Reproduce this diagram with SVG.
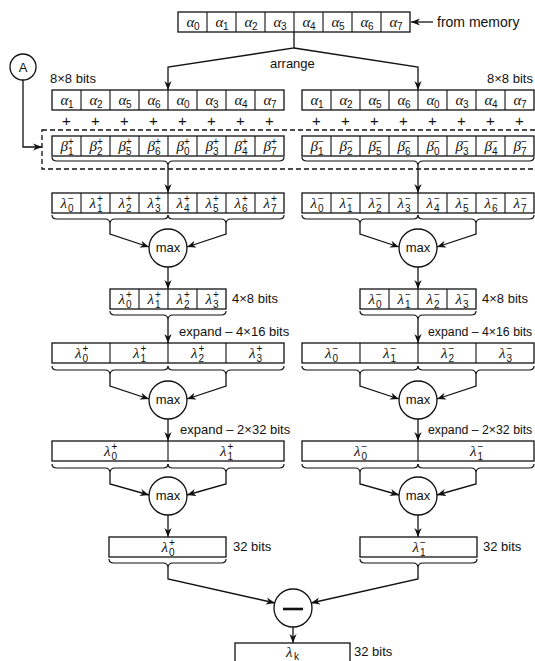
<svg xmlns="http://www.w3.org/2000/svg" width="535" height="661" viewBox="0 0 535 661">
<style>
.bx{fill:#fff;stroke:#111;stroke-width:1.3}
.dv{stroke:#111;stroke-width:1.1}
.cn{fill:none;stroke:#111;stroke-width:1.3}
.br{fill:none;stroke:#111;stroke-width:1.2}
.dash{fill:none;stroke:#111;stroke-width:1.3;stroke-dasharray:5,3}
.lb{font-family:"Liberation Sans",Arial,sans-serif;font-size:13px;fill:#111}
.lbs{font-family:"Liberation Sans",Arial,sans-serif;font-size:12.3px;fill:#111}
.pl{font-family:"Liberation Sans",Arial,sans-serif;font-size:15px;fill:#111;text-anchor:middle}
.gk{font-family:"Liberation Serif","Times New Roman",serif;font-style:italic;font-size:15px;fill:#111}
.s{font-family:"Liberation Sans",Arial,sans-serif;font-style:normal;font-size:10px}
.ci{fill:#fff;stroke:#111;stroke-width:1.3}
.mx{font-family:"Liberation Sans",Arial,sans-serif;font-size:13px;fill:#111;text-anchor:middle}
</style>
<defs>
<marker id="ah" viewBox="0 0 10 8" refX="10" refY="4" markerWidth="9" markerHeight="7.5" orient="auto" markerUnits="userSpaceOnUse"><path d="M0,0 L10,4 L0,8 L3,4 z" fill="#111"/></marker>
</defs>

<!-- dashed box -->
<rect class="dash" x="42" y="130" width="510" height="39"/>

<g id="connectors">
<path class="cn" d="M294,32 V48 L168,67 V90" marker-end="url(#ah)"/>
<path class="cn" d="M294,48 L418,67 V90" marker-end="url(#ah)"/>
<path class="cn" d="M433,22 H411" marker-end="url(#ah)"/>
<path class="cn" d="M23,80 V147 H42" marker-end="url(#ah)"/>
<path class="cn" d="M168,166 V193" marker-end="url(#ah)"/>
<path class="cn" d="M418,166 V193" marker-end="url(#ah)"/>
<path class="cn" d="M110,224 V234 L149,247" marker-end="url(#ah)"/>
<path class="cn" d="M226,224 V234 L187,247" marker-end="url(#ah)"/>
<path class="cn" d="M360,224 V234 L399,247" marker-end="url(#ah)"/>
<path class="cn" d="M476,224 V234 L437,247" marker-end="url(#ah)"/>
<path class="cn" d="M168,267 V289" marker-end="url(#ah)"/>
<path class="cn" d="M418,267 V289" marker-end="url(#ah)"/>
<path class="cn" d="M168,320 V343" marker-end="url(#ah)"/>
<path class="cn" d="M418,320 V343" marker-end="url(#ah)"/>
<path class="cn" d="M110,375 V386 L149,399" marker-end="url(#ah)"/>
<path class="cn" d="M226,375 V386 L187,399" marker-end="url(#ah)"/>
<path class="cn" d="M360,375 V386 L399,399" marker-end="url(#ah)"/>
<path class="cn" d="M476,375 V386 L437,399" marker-end="url(#ah)"/>
<path class="cn" d="M168,419 V441" marker-end="url(#ah)"/>
<path class="cn" d="M418,419 V441" marker-end="url(#ah)"/>
<path class="cn" d="M110,473 V484 L149,495" marker-end="url(#ah)"/>
<path class="cn" d="M226,473 V484 L187,495" marker-end="url(#ah)"/>
<path class="cn" d="M360,473 V484 L399,495" marker-end="url(#ah)"/>
<path class="cn" d="M476,473 V484 L437,495" marker-end="url(#ah)"/>
<path class="cn" d="M168,515 V537" marker-end="url(#ah)"/>
<path class="cn" d="M418,515 V537" marker-end="url(#ah)"/>
<path class="cn" d="M168,568 V579 L275,603" marker-end="url(#ah)"/>
<path class="cn" d="M418,568 V579 L311,603" marker-end="url(#ah)"/>
<path class="cn" d="M293,627 V643" marker-end="url(#ah)"/>
<!-- braces -->
<path class="br" d="M52,157 q0,4 5,4 H163 q5,0 5,5 q0,-5 5,-5 H279 q5,0 5,-4"/>
<path class="br" d="M302,157 q0,4 5,4 H413 q5,0 5,5 q0,-5 5,-5 H529 q5,0 5,-4"/>
<path class="br" d="M52,215 q0,4 5,4 H105 q5,0 5,5 q0,-5 5,-5 H163 q5,0 5,-4"/>
<path class="br" d="M168,215 q0,4 5,4 H221 q5,0 5,5 q0,-5 5,-5 H279 q5,0 5,-4"/>
<path class="br" d="M302,215 q0,4 5,4 H355 q5,0 5,5 q0,-5 5,-5 H413 q5,0 5,-4"/>
<path class="br" d="M418,215 q0,4 5,4 H471 q5,0 5,5 q0,-5 5,-5 H529 q5,0 5,-4"/>
<path class="br" d="M110,311 q0,4 5,4 H163 q5,0 5,5 q0,-5 5,-5 H221 q5,0 5,-4"/>
<path class="br" d="M360,311 q0,4 5,4 H413 q5,0 5,5 q0,-5 5,-5 H471 q5,0 5,-4"/>
<path class="br" d="M52,366 q0,4 5,4 H105 q5,0 5,5 q0,-5 5,-5 H163 q5,0 5,-4"/>
<path class="br" d="M168,366 q0,4 5,4 H221 q5,0 5,5 q0,-5 5,-5 H279 q5,0 5,-4"/>
<path class="br" d="M302,366 q0,4 5,4 H355 q5,0 5,5 q0,-5 5,-5 H413 q5,0 5,-4"/>
<path class="br" d="M418,366 q0,4 5,4 H471 q5,0 5,5 q0,-5 5,-5 H529 q5,0 5,-4"/>
<path class="br" d="M52,464 q0,4 5,4 H105 q5,0 5,5 q0,-5 5,-5 H163 q5,0 5,-4"/>
<path class="br" d="M168,464 q0,4 5,4 H221 q5,0 5,5 q0,-5 5,-5 H279 q5,0 5,-4"/>
<path class="br" d="M302,464 q0,4 5,4 H355 q5,0 5,5 q0,-5 5,-5 H413 q5,0 5,-4"/>
<path class="br" d="M418,464 q0,4 5,4 H471 q5,0 5,5 q0,-5 5,-5 H529 q5,0 5,-4"/>
<path class="br" d="M109,559 q0,4 5,4 H163 q5,0 5,5 q0,-5 5,-5 H221 q5,0 5,-4"/>
<path class="br" d="M360,559 q0,4 5,4 H413 q5,0 5,5 q0,-5 5,-5 H472 q5,0 5,-4"/>
</g>

<g id="memory-row">
<rect class="bx" x="178" y="12" width="232" height="20"/>
<path class="dv" d="M207,12V32M236,12V32M265,12V32M294,12V32M323,12V32M352,12V32M381,12V32"/>
<text class="gk" x="186.5" y="27">α<tspan class="s" x="194" y="30">0</tspan></text>
<text class="gk" x="215.5" y="27">α<tspan class="s" x="223" y="30">1</tspan></text>
<text class="gk" x="244.5" y="27">α<tspan class="s" x="252" y="30">2</tspan></text>
<text class="gk" x="273.5" y="27">α<tspan class="s" x="281" y="30">3</tspan></text>
<text class="gk" x="302.5" y="27">α<tspan class="s" x="310" y="30">4</tspan></text>
<text class="gk" x="331.5" y="27">α<tspan class="s" x="339" y="30">5</tspan></text>
<text class="gk" x="360.5" y="27">α<tspan class="s" x="368" y="30">6</tspan></text>
<text class="gk" x="389.5" y="27">α<tspan class="s" x="397" y="30">7</tspan></text>
</g>
<text class="lb" x="437" y="27" style="font-size:14px">from memory</text>
<text class="lb" x="270" y="68">arrange</text>

<g id="node-A">
<circle class="ci" cx="23" cy="67" r="13"/>
<text class="mx" x="23" y="72">A</text>
</g>

<text class="lb" x="50" y="83">8×8 bits</text>
<text class="lb" x="487" y="83">8×8 bits</text>

<g id="alpha-left">
<rect class="bx" x="52" y="90" width="232" height="20"/>
<path class="dv" d="M81,90V110M110,90V110M139,90V110M168,90V110M197,90V110M226,90V110M255,90V110"/>
<text class="gk" x="60.5" y="105">α<tspan class="s" x="68" y="108">1</tspan></text>
<text class="gk" x="89.5" y="105">α<tspan class="s" x="97" y="108">2</tspan></text>
<text class="gk" x="118.5" y="105">α<tspan class="s" x="126" y="108">5</tspan></text>
<text class="gk" x="147.5" y="105">α<tspan class="s" x="155" y="108">6</tspan></text>
<text class="gk" x="176.5" y="105">α<tspan class="s" x="184" y="108">0</tspan></text>
<text class="gk" x="205.5" y="105">α<tspan class="s" x="213" y="108">3</tspan></text>
<text class="gk" x="234.5" y="105">α<tspan class="s" x="242" y="108">4</tspan></text>
<text class="gk" x="263.5" y="105">α<tspan class="s" x="271" y="108">7</tspan></text>
</g>
<g id="alpha-right">
<rect class="bx" x="302" y="90" width="232" height="20"/>
<path class="dv" d="M331,90V110M360,90V110M389,90V110M418,90V110M447,90V110M476,90V110M505,90V110"/>
<text class="gk" x="310.5" y="105">α<tspan class="s" x="318" y="108">1</tspan></text>
<text class="gk" x="339.5" y="105">α<tspan class="s" x="347" y="108">2</tspan></text>
<text class="gk" x="368.5" y="105">α<tspan class="s" x="376" y="108">5</tspan></text>
<text class="gk" x="397.5" y="105">α<tspan class="s" x="405" y="108">6</tspan></text>
<text class="gk" x="426.5" y="105">α<tspan class="s" x="434" y="108">0</tspan></text>
<text class="gk" x="455.5" y="105">α<tspan class="s" x="463" y="108">3</tspan></text>
<text class="gk" x="484.5" y="105">α<tspan class="s" x="492" y="108">4</tspan></text>
<text class="gk" x="513.5" y="105">α<tspan class="s" x="521" y="108">7</tspan></text>
</g>

<g id="plus-row">
<text class="pl" x="66.5" y="126">+</text><text class="pl" x="95.5" y="126">+</text><text class="pl" x="124.5" y="126">+</text><text class="pl" x="153.5" y="126">+</text>
<text class="pl" x="182.5" y="126">+</text><text class="pl" x="211.5" y="126">+</text><text class="pl" x="240.5" y="126">+</text><text class="pl" x="269.5" y="126">+</text>
<text class="pl" x="316.5" y="126">+</text><text class="pl" x="345.5" y="126">+</text><text class="pl" x="374.5" y="126">+</text><text class="pl" x="403.5" y="126">+</text>
<text class="pl" x="432.5" y="126">+</text><text class="pl" x="461.5" y="126">+</text><text class="pl" x="490.5" y="126">+</text><text class="pl" x="519.5" y="126">+</text>
</g>

<g id="beta-left">
<rect class="bx" x="52" y="136" width="232" height="20"/>
<path class="dv" d="M81,136V156M110,136V156M139,136V156M168,136V156M197,136V156M226,136V156M255,136V156"/>
<text class="gk" x="60.5" y="151">β<tspan class="s" x="68" y="155">1</tspan><tspan class="s" x="68" y="145">+</tspan></text>
<text class="gk" x="89.5" y="151">β<tspan class="s" x="97" y="155">2</tspan><tspan class="s" x="97" y="145">+</tspan></text>
<text class="gk" x="118.5" y="151">β<tspan class="s" x="126" y="155">5</tspan><tspan class="s" x="126" y="145">+</tspan></text>
<text class="gk" x="147.5" y="151">β<tspan class="s" x="155" y="155">6</tspan><tspan class="s" x="155" y="145">+</tspan></text>
<text class="gk" x="176.5" y="151">β<tspan class="s" x="184" y="155">0</tspan><tspan class="s" x="184" y="145">+</tspan></text>
<text class="gk" x="205.5" y="151">β<tspan class="s" x="213" y="155">3</tspan><tspan class="s" x="213" y="145">+</tspan></text>
<text class="gk" x="234.5" y="151">β<tspan class="s" x="242" y="155">4</tspan><tspan class="s" x="242" y="145">+</tspan></text>
<text class="gk" x="263.5" y="151">β<tspan class="s" x="271" y="155">7</tspan><tspan class="s" x="271" y="145">+</tspan></text>
</g>
<g id="beta-right">
<rect class="bx" x="302" y="136" width="232" height="20"/>
<path class="dv" d="M331,136V156M360,136V156M389,136V156M418,136V156M447,136V156M476,136V156M505,136V156"/>
<text class="gk" x="310.5" y="151">β<tspan class="s" x="318" y="155">1</tspan><tspan class="s" x="318" y="145">−</tspan></text>
<text class="gk" x="339.5" y="151">β<tspan class="s" x="347" y="155">2</tspan><tspan class="s" x="347" y="145">−</tspan></text>
<text class="gk" x="368.5" y="151">β<tspan class="s" x="376" y="155">5</tspan><tspan class="s" x="376" y="145">−</tspan></text>
<text class="gk" x="397.5" y="151">β<tspan class="s" x="405" y="155">6</tspan><tspan class="s" x="405" y="145">−</tspan></text>
<text class="gk" x="426.5" y="151">β<tspan class="s" x="434" y="155">0</tspan><tspan class="s" x="434" y="145">−</tspan></text>
<text class="gk" x="455.5" y="151">β<tspan class="s" x="463" y="155">3</tspan><tspan class="s" x="463" y="145">−</tspan></text>
<text class="gk" x="484.5" y="151">β<tspan class="s" x="492" y="155">4</tspan><tspan class="s" x="492" y="145">−</tspan></text>
<text class="gk" x="513.5" y="151">β<tspan class="s" x="521" y="155">7</tspan><tspan class="s" x="521" y="145">−</tspan></text>
</g>

<g id="lambda8-left">
<rect class="bx" x="52" y="193" width="232" height="20"/>
<path class="dv" d="M81,193V213M110,193V213M139,193V213M168,193V213M197,193V213M226,193V213M255,193V213"/>
<text class="gk" x="60.5" y="208">λ<tspan class="s" x="68" y="212">0</tspan><tspan class="s" x="68" y="202">−</tspan></text>
<text class="gk" x="89.5" y="208">λ<tspan class="s" x="97" y="212">1</tspan><tspan class="s" x="97" y="202">+</tspan></text>
<text class="gk" x="118.5" y="208">λ<tspan class="s" x="126" y="212">2</tspan><tspan class="s" x="126" y="202">+</tspan></text>
<text class="gk" x="147.5" y="208">λ<tspan class="s" x="155" y="212">3</tspan><tspan class="s" x="155" y="202">+</tspan></text>
<text class="gk" x="176.5" y="208">λ<tspan class="s" x="184" y="212">4</tspan><tspan class="s" x="184" y="202">+</tspan></text>
<text class="gk" x="205.5" y="208">λ<tspan class="s" x="213" y="212">5</tspan><tspan class="s" x="213" y="202">+</tspan></text>
<text class="gk" x="234.5" y="208">λ<tspan class="s" x="242" y="212">6</tspan><tspan class="s" x="242" y="202">+</tspan></text>
<text class="gk" x="263.5" y="208">λ<tspan class="s" x="271" y="212">7</tspan><tspan class="s" x="271" y="202">+</tspan></text>
</g>
<g id="lambda8-right">
<rect class="bx" x="302" y="193" width="232" height="20"/>
<path class="dv" d="M331,193V213M360,193V213M389,193V213M418,193V213M447,193V213M476,193V213M505,193V213"/>
<text class="gk" x="310.5" y="208">λ<tspan class="s" x="318" y="212">0</tspan><tspan class="s" x="318" y="202">−</tspan></text>
<text class="gk" x="339.5" y="208">λ<tspan class="s" x="347" y="212">1</tspan><tspan class="s" x="347" y="202">−</tspan></text>
<text class="gk" x="368.5" y="208">λ<tspan class="s" x="376" y="212">2</tspan><tspan class="s" x="376" y="202">−</tspan></text>
<text class="gk" x="397.5" y="208">λ<tspan class="s" x="405" y="212">3</tspan><tspan class="s" x="405" y="202">−</tspan></text>
<text class="gk" x="426.5" y="208">λ<tspan class="s" x="434" y="212">4</tspan><tspan class="s" x="434" y="202">−</tspan></text>
<text class="gk" x="455.5" y="208">λ<tspan class="s" x="463" y="212">5</tspan><tspan class="s" x="463" y="202">−</tspan></text>
<text class="gk" x="484.5" y="208">λ<tspan class="s" x="492" y="212">6</tspan><tspan class="s" x="492" y="202">−</tspan></text>
<text class="gk" x="513.5" y="208">λ<tspan class="s" x="521" y="212">7</tspan><tspan class="s" x="521" y="202">−</tspan></text>
</g>

<g id="max1-left"><circle class="ci" cx="168" cy="248" r="19"/><text class="mx" x="168" y="252">max</text></g>
<g id="max1-right"><circle class="ci" cx="418" cy="248" r="19"/><text class="mx" x="418" y="252">max</text></g>

<g id="row4x8-left">
<rect class="bx" x="110" y="289" width="116" height="20"/>
<path class="dv" d="M139,289V309M168,289V309M197,289V309"/>
<text class="gk" x="118.5" y="304">λ<tspan class="s" x="126" y="308">0</tspan><tspan class="s" x="126" y="298">+</tspan></text>
<text class="gk" x="147.5" y="304">λ<tspan class="s" x="155" y="308">1</tspan><tspan class="s" x="155" y="298">+</tspan></text>
<text class="gk" x="176.5" y="304">λ<tspan class="s" x="184" y="308">2</tspan><tspan class="s" x="184" y="298">+</tspan></text>
<text class="gk" x="205.5" y="304">λ<tspan class="s" x="213" y="308">3</tspan><tspan class="s" x="213" y="298">+</tspan></text>
</g>
<text class="lb" x="232" y="303">4×8 bits</text>
<g id="row4x8-right">
<rect class="bx" x="360" y="289" width="116" height="20"/>
<path class="dv" d="M389,289V309M418,289V309M447,289V309"/>
<text class="gk" x="368.5" y="304">λ<tspan class="s" x="376" y="308">0</tspan><tspan class="s" x="376" y="298">−</tspan></text>
<text class="gk" x="397.5" y="304">λ<tspan class="s" x="405" y="308">1</tspan><tspan class="s" x="405" y="298">−</tspan></text>
<text class="gk" x="426.5" y="304">λ<tspan class="s" x="434" y="308">2</tspan><tspan class="s" x="434" y="298">−</tspan></text>
<text class="gk" x="455.5" y="304">λ<tspan class="s" x="463" y="308">3</tspan><tspan class="s" x="463" y="298">−</tspan></text>
</g>
<text class="lb" x="482" y="303">4×8 bits</text>

<text class="lb" x="179" y="336">expand – 4×16 bits</text>
<text class="lbs" x="428" y="336">expand – 4×16 bits</text>

<g id="row4x16-left">
<rect class="bx" x="52" y="343" width="232" height="20"/>
<path class="dv" d="M110,343V363M168,343V363M226,343V363"/>
<text class="gk" x="75" y="358">λ<tspan class="s" x="82.5" y="362">0</tspan><tspan class="s" x="82.5" y="352">+</tspan></text>
<text class="gk" x="133" y="358">λ<tspan class="s" x="140.5" y="362">1</tspan><tspan class="s" x="140.5" y="352">+</tspan></text>
<text class="gk" x="191" y="358">λ<tspan class="s" x="198.5" y="362">2</tspan><tspan class="s" x="198.5" y="352">+</tspan></text>
<text class="gk" x="249" y="358">λ<tspan class="s" x="256.5" y="362">3</tspan><tspan class="s" x="256.5" y="352">+</tspan></text>
</g>
<g id="row4x16-right">
<rect class="bx" x="302" y="343" width="232" height="20"/>
<path class="dv" d="M360,343V363M418,343V363M476,343V363"/>
<text class="gk" x="325" y="358">λ<tspan class="s" x="332.5" y="362">0</tspan><tspan class="s" x="332.5" y="352">−</tspan></text>
<text class="gk" x="383" y="358">λ<tspan class="s" x="390.5" y="362">1</tspan><tspan class="s" x="390.5" y="352">−</tspan></text>
<text class="gk" x="441" y="358">λ<tspan class="s" x="448.5" y="362">2</tspan><tspan class="s" x="448.5" y="352">−</tspan></text>
<text class="gk" x="499" y="358">λ<tspan class="s" x="506.5" y="362">3</tspan><tspan class="s" x="506.5" y="352">−</tspan></text>
</g>

<g id="max2-left"><circle class="ci" cx="168" cy="400" r="19"/><text class="mx" x="168" y="404">max</text></g>
<g id="max2-right"><circle class="ci" cx="418" cy="400" r="19"/><text class="mx" x="418" y="404">max</text></g>

<text class="lb" x="180" y="434">expand – 2×32 bits</text>
<text class="lbs" x="428" y="434">expand – 2×32 bits</text>

<g id="row2x32-left">
<rect class="bx" x="52" y="441" width="232" height="20"/>
<path class="dv" d="M168,441V461"/>
<text class="gk" x="104" y="456">λ<tspan class="s" x="111.5" y="460">0</tspan><tspan class="s" x="111.5" y="450">+</tspan></text>
<text class="gk" x="220" y="456">λ<tspan class="s" x="227.5" y="460">1</tspan><tspan class="s" x="227.5" y="450">+</tspan></text>
</g>
<g id="row2x32-right">
<rect class="bx" x="302" y="441" width="232" height="20"/>
<path class="dv" d="M418,441V461"/>
<text class="gk" x="354" y="456">λ<tspan class="s" x="361.5" y="460">0</tspan><tspan class="s" x="361.5" y="450">−</tspan></text>
<text class="gk" x="470" y="456">λ<tspan class="s" x="477.5" y="460">1</tspan><tspan class="s" x="477.5" y="450">−</tspan></text>
</g>

<g id="max3-left"><circle class="ci" cx="168" cy="496" r="19"/><text class="mx" x="168" y="500">max</text></g>
<g id="max3-right"><circle class="ci" cx="418" cy="496" r="19"/><text class="mx" x="418" y="500">max</text></g>

<g id="row32-left">
<rect class="bx" x="109" y="537" width="117" height="20"/>
<text class="gk" x="161.5" y="552">λ<tspan class="s" x="169" y="556">0</tspan><tspan class="s" x="169" y="546">+</tspan></text>
</g>
<text class="lb" x="233" y="551">32 bits</text>
<g id="row32-right">
<rect class="bx" x="360" y="537" width="117" height="20"/>
<text class="gk" x="412.5" y="552">λ<tspan class="s" x="420" y="556">1</tspan><tspan class="s" x="420" y="546">−</tspan></text>
</g>
<text class="lb" x="483" y="551">32 bits</text>

<g id="minus">
<circle class="ci" cx="293" cy="608" r="19"/>
<path d="M283,609 H303" stroke="#111" stroke-width="2.6"/>
</g>

<g id="row-final">
<rect class="bx" x="235" y="643" width="115" height="22"/>
<text class="gk" x="286" y="657">λ<tspan class="s" x="294" y="660">k</tspan></text>
</g>
<text class="lb" x="354" y="656">32 bits</text>
</svg>
